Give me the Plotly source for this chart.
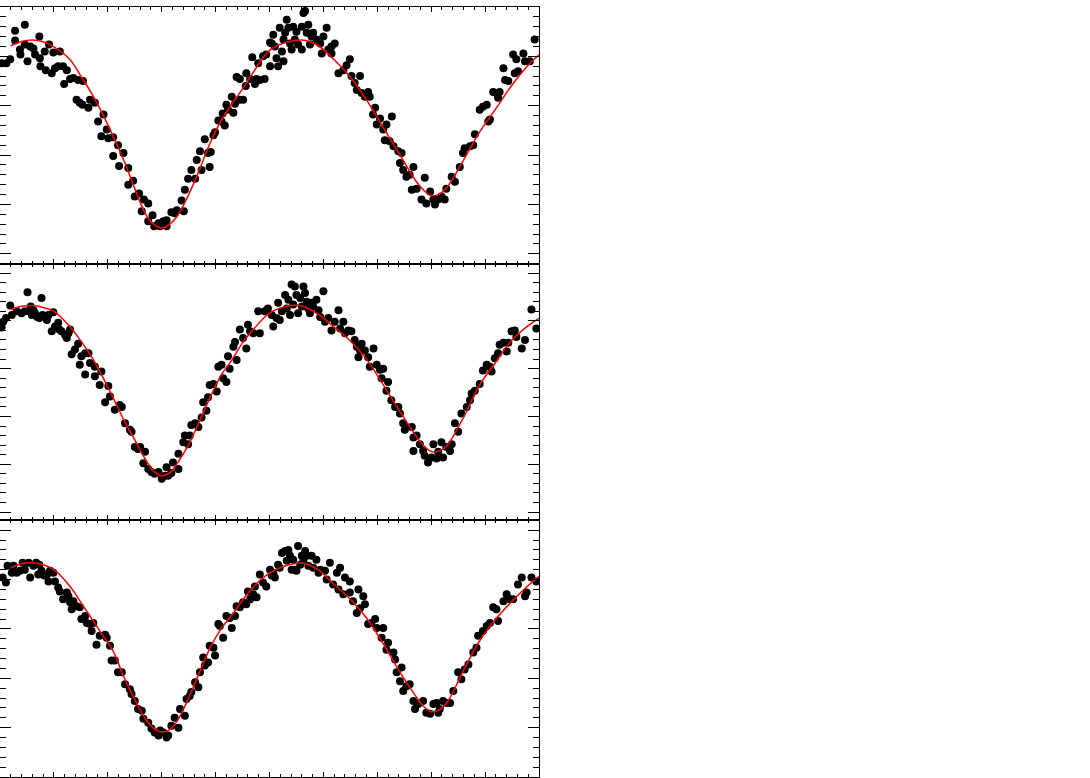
"""
Phase-folded light curves, three panels with model fits
"""

import plotly.graph_objs as go
from plotly.subplots import make_subplots

# panel 1 observations (phase, relative flux)
phase1 = [-0.297, -0.288, -0.281, -0.272, -0.272, -0.254, -0.263, -0.262, -0.254, -0.249,
          -0.244, -0.238, -0.235, -0.227, -0.226, -0.225, -0.217, -0.215, -0.209, -0.204,
          -0.201, -0.198, -0.192, -0.189, -0.183, -0.181, -0.176, -0.170, -0.164, -0.155,
          -0.146, -0.158, -0.152, -0.147, -0.136, -0.133, -0.124, -0.118, -0.108, -0.112,
          -0.102, -0.099, -0.090, -0.081, -0.090, -0.079, -0.071, -0.062, -0.062, -0.053,
          -0.050, -0.042, -0.037, -0.033, -0.025, -0.025, -0.017, -0.014, -0.006, -0.003,
          0.003, 0.009, 0.009, 0.018, 0.024, 0.028, 0.037, 0.041, 0.043, 0.049,
          0.055, 0.062, 0.065, 0.071, 0.074, 0.080, 0.086, 0.089, 0.091, 0.096,
          0.099, 0.105, 0.111, 0.113, 0.117, 0.120, 0.123, 0.130, 0.133, 0.136,
          0.139, 0.144, 0.145, 0.151, 0.156, 0.157, 0.164, 0.168, 0.173, 0.176,
          0.179, 0.182, 0.188, 0.191, 0.194, 0.201, 0.201,
          0.204, 0.207, 0.210, 0.213, 0.216, 0.219, 0.223, 0.226, 0.226, 0.229,
          0.232, 0.235, 0.238, 0.241, 0.244, 0.247, 0.250, 0.253, 0.260, 0.260,
          0.263, 0.266, 0.269, 0.272, 0.275, 0.278, 0.281, 0.287, 0.294, 0.297,
          0.300, 0.306, 0.309, 0.315, 0.315, 0.321, 0.328, 0.337, 0.343, 0.349,
          0.352, 0.358, 0.362, 0.368, 0.371, 0.377, 0.383, 0.386, 0.392, 0.396,
          0.399, 0.405, 0.411, 0.414, 0.417, 0.423, 0.427, 0.430, 0.439, 0.442,
          0.445, 0.448, 0.454, 0.460, 0.467, 0.464, 0.473, 0.482, 0.488, 0.491,
          0.498, 0.504, 0.507, 0.513, 0.519, 0.525, 0.528, 0.538, 0.544, 0.553,
          0.559, 0.562, 0.572, 0.578, 0.581, 0.590, 0.596, 0.603, 0.606, 0.609,
          0.615, 0.621, 0.624, 0.627, 0.634, 0.637, 0.643, 0.652, 0.655, 0.658,
          0.661, 0.671, 0.674, 0.683, 0.692]
flux1 = [0.993, 0.993, 0.997, 1.026, 1.016, 1.032, 1.007, 1.002, 1.012, 0.995,
         1.010, 1.008, 1.002, 1.020, 0.998, 0.990, 1.005, 0.986, 1.012, 0.983,
         1.004, 0.988, 0.990, 1.005, 0.990, 0.972, 0.986, 0.977, 0.978, 0.976,
         0.975, 0.956, 0.953, 0.951, 0.948, 0.956, 0.953, 0.934, 0.941, 0.919,
         0.926, 0.917, 0.918, 0.910, 0.899, 0.889, 0.902, 0.887, 0.870, 0.874,
         0.858, 0.861, 0.843, 0.855, 0.851, 0.833, 0.839, 0.828, 0.831, 0.828,
         0.833, 0.834, 0.828, 0.842, 0.841, 0.844, 0.854, 0.843, 0.865, 0.876,
         0.885, 0.876, 0.895, 0.904, 0.885, 0.916, 0.902, 0.888, 0.903, 0.920,
         0.923, 0.935, 0.934, 0.942, 0.930, 0.951, 0.946, 0.959, 0.943, 0.952,
         0.979, 0.956, 0.977, 0.956, 0.970, 0.983, 0.977, 0.999, 0.972, 0.977,
         0.993, 0.976, 1.000, 0.977, 1.002, 1.014, 0.990,
         1.013, 1.022, 1.010, 0.998, 0.990, 1.029, 1.005, 1.017, 0.995, 1.024,
         1.037, 1.029, 1.013, 1.007, 1.030, 1.017, 1.025, 1.012, 1.030, 1.007,
         1.044, 1.046, 1.024, 1.032, 1.012, 1.020, 1.024, 1.017, 1.013, 1.003,
         1.020, 1.029, 1.007, 1.010, 1.003, 1.013, 0.983, 0.986, 0.991, 0.997,
         0.980, 0.973, 0.966, 0.980, 0.963, 0.959, 0.964, 0.959, 0.941, 0.948,
         0.931, 0.937, 0.926, 0.915, 0.931, 0.914, 0.939, 0.909, 0.904, 0.892,
         0.902, 0.885, 0.878, 0.880, 0.888, 0.865, 0.866, 0.855, 0.877, 0.851,
         0.863, 0.855, 0.850, 0.855, 0.858, 0.855, 0.866, 0.878, 0.873, 0.888,
         0.902, 0.907, 0.909, 0.910, 0.921, 0.946, 0.949, 0.951, 0.934, 0.936,
         0.964, 0.963, 0.958, 0.964, 0.988, 0.976, 0.975, 1.002, 0.983, 0.997,
         0.985, 1.003, 0.995, 0.995, 1.017]

# panel 2 observations
phase2 = [-0.297, -0.294, -0.289, -0.281, -0.278, -0.269, -0.260, -0.254, -0.249, -0.246,
          -0.243, -0.241, -0.238, -0.235, -0.231, -0.227, -0.223, -0.221, -0.213, -0.210,
          -0.204, -0.201, -0.198, -0.192, -0.190, -0.186, -0.179, -0.176, -0.173, -0.170,
          -0.167, -0.161, -0.155, -0.152, -0.149, -0.142, -0.142, -0.136, -0.133, -0.124,
          -0.124, -0.115, -0.112, -0.105, -0.099, -0.096, -0.087, -0.078, -0.074, -0.068,
          -0.059, -0.056, -0.050, -0.044, -0.040, -0.031, -0.034, -0.025, -0.019, -0.013,
          -0.006, 0.000, 0.006, 0.009, 0.012, 0.018, 0.021, 0.031, 0.031, 0.040,
          0.043, 0.049, 0.052, 0.055, 0.062, 0.068, 0.074, 0.077, 0.083, 0.086,
          0.089, 0.096, 0.102, 0.105, 0.111, 0.114, 0.120, 0.123, 0.126, 0.133,
          0.136, 0.139, 0.145, 0.151, 0.157, 0.160, 0.164, 0.170, 0.179, 0.182,
          0.191, 0.197,
          0.204, 0.207, 0.213, 0.216, 0.219, 0.223, 0.229, 0.232, 0.235, 0.238,
          0.241, 0.244, 0.247, 0.250, 0.253, 0.257, 0.260, 0.263, 0.266, 0.269,
          0.272, 0.275, 0.278, 0.281, 0.287, 0.291, 0.294, 0.300, 0.303, 0.309,
          0.315, 0.321, 0.328, 0.331, 0.337, 0.340, 0.346, 0.352, 0.358, 0.362,
          0.365, 0.368, 0.371, 0.377, 0.383, 0.386, 0.393, 0.399, 0.405, 0.411,
          0.408, 0.420, 0.417, 0.426, 0.433, 0.439, 0.442, 0.448, 0.451, 0.454,
          0.464, 0.467, 0.473, 0.467, 0.479, 0.485, 0.488, 0.494, 0.501, 0.504,
          0.510, 0.513, 0.519, 0.522, 0.528, 0.538, 0.535, 0.544, 0.550, 0.556,
          0.566, 0.572, 0.575, 0.581, 0.590, 0.596, 0.603, 0.609, 0.612, 0.618,
          0.624, 0.627, 0.634, 0.640, 0.643, 0.649, 0.655, 0.658, 0.668, 0.674,
          0.686, 0.695]
flux2 = [0.993, 0.999, 1.003, 1.016, 1.006, 1.010, 1.008, 1.010, 1.030, 1.010,
         1.015, 1.006, 1.011, 1.008, 1.004, 1.003, 1.024, 1.006, 1.001, 1.006,
         0.989, 1.009, 0.994, 0.998, 0.991, 0.989, 0.985, 0.982, 0.987, 0.991,
         0.965, 0.970, 0.976, 0.954, 0.963, 0.966, 0.944, 0.966, 0.956, 0.952,
         0.942, 0.933, 0.947, 0.915, 0.932, 0.921, 0.907, 0.912, 0.910, 0.893,
         0.886, 0.884, 0.868, 0.866, 0.868, 0.863, 0.851, 0.845, 0.842, 0.840,
         0.842, 0.835, 0.838, 0.847, 0.838, 0.841, 0.852, 0.861, 0.845, 0.873,
         0.880, 0.871, 0.880, 0.891, 0.893, 0.889, 0.899, 0.915, 0.906, 0.920,
         0.933, 0.934, 0.926, 0.952, 0.954, 0.940, 0.936, 0.963, 0.950, 0.973,
         0.978, 0.959, 0.991, 0.982, 0.971, 0.996, 0.989, 0.987, 1.010, 0.987,
         1.010, 1.013,
         1.006, 0.994, 1.003, 1.019, 1.001, 1.010, 1.027, 1.013, 1.022, 1.006,
         1.038, 1.017, 1.036, 1.027, 1.008, 1.024, 1.015, 1.036, 1.029, 1.020,
         1.013, 1.008, 1.019, 1.015, 1.022, 1.011, 1.004, 1.031, 0.999, 1.003,
         0.990, 0.999, 1.011, 0.992, 0.999, 0.987, 0.990, 0.989, 0.980, 0.973,
         0.962, 0.969, 0.976, 0.969, 0.962, 0.952, 0.971, 0.954, 0.949, 0.950,
         0.940, 0.936, 0.927, 0.917, 0.910, 0.910, 0.903, 0.893, 0.886, 0.889,
         0.889, 0.878, 0.880, 0.864, 0.871, 0.864, 0.859, 0.852, 0.857, 0.871,
         0.856, 0.863, 0.873, 0.857, 0.868, 0.871, 0.864, 0.893, 0.884, 0.903,
         0.910, 0.917, 0.924, 0.927, 0.934, 0.948, 0.954, 0.952, 0.947, 0.961,
         0.966, 0.975, 0.977, 0.968, 0.977, 0.989, 0.990, 0.983, 0.971, 0.980,
         1.012, 0.992]

# panel 3 observations
phase3 = [-0.295, -0.289, -0.286, -0.278, -0.275, -0.269, -0.263, -0.258, -0.254, -0.247,
          -0.244, -0.238, -0.233, -0.229, -0.227, -0.223, -0.218, -0.213, -0.210, -0.207,
          -0.201, -0.198, -0.192, -0.189, -0.183, -0.176, -0.173, -0.170, -0.167, -0.164,
          -0.158, -0.152, -0.149, -0.142, -0.139, -0.133, -0.130, -0.127, -0.121, -0.115,
          -0.105, -0.102, -0.096, -0.093, -0.087, -0.081, -0.074, -0.068, -0.059, -0.056,
          -0.050, -0.044, -0.037, -0.034, -0.025, -0.019, -0.013, -0.006, -0.003, 0.003,
          0.009, 0.012, 0.018, 0.024, 0.031, 0.034, 0.043, 0.046, 0.052, 0.055,
          0.062, 0.068, 0.071, 0.077, 0.080, 0.086, 0.089, 0.096, 0.099, 0.105,
          0.108, 0.114, 0.120, 0.126, 0.130, 0.136, 0.139, 0.145, 0.151, 0.157,
          0.160, 0.164, 0.170, 0.173, 0.176, 0.182, 0.188, 0.194, 0.201,
          0.204, 0.207, 0.210, 0.216, 0.219, 0.223, 0.229, 0.232, 0.235, 0.238,
          0.241, 0.244, 0.247, 0.250, 0.253, 0.257, 0.260, 0.263, 0.266, 0.269,
          0.272, 0.278, 0.281, 0.287, 0.291, 0.294, 0.303, 0.312, 0.306, 0.318,
          0.325, 0.328, 0.331, 0.337, 0.340, 0.349, 0.349, 0.355, 0.365, 0.362,
          0.368, 0.374, 0.377, 0.383, 0.389, 0.396, 0.399, 0.408, 0.411, 0.417,
          0.420, 0.430, 0.433, 0.436, 0.445, 0.442, 0.448, 0.454, 0.460, 0.467,
          0.470, 0.476, 0.485, 0.491, 0.498, 0.504, 0.510, 0.513, 0.516, 0.522,
          0.528, 0.535, 0.541, 0.550, 0.556, 0.562, 0.569, 0.578, 0.584, 0.587,
          0.596, 0.603, 0.609, 0.615, 0.621, 0.624, 0.634, 0.640, 0.646, 0.652,
          0.661, 0.668, 0.674, 0.677, 0.686, 0.695]
flux3 = [1.002, 0.997, 1.014, 1.007, 1.014, 1.007, 1.009, 1.017, 1.010, 1.017,
         1.002, 1.014, 1.017, 1.005, 1.015, 1.009, 1.004, 1.005, 0.998, 1.009,
         1.007, 0.998, 0.992, 0.988, 0.980, 0.987, 0.983, 0.977, 0.970, 0.978,
         0.973, 0.972, 0.960, 0.963, 0.956, 0.955, 0.948, 0.956, 0.934, 0.943,
         0.944, 0.941, 0.933, 0.918, 0.918, 0.906, 0.906, 0.894, 0.889, 0.884,
         0.877, 0.869, 0.867, 0.859, 0.855, 0.849, 0.845, 0.842, 0.847, 0.845,
         0.840, 0.842, 0.852, 0.860, 0.850, 0.869, 0.862, 0.879, 0.882, 0.886,
         0.896, 0.891, 0.906, 0.921, 0.913, 0.916, 0.933, 0.931, 0.923, 0.955,
         0.953, 0.941, 0.963, 0.961, 0.951, 0.963, 0.973, 0.972, 0.977, 0.975,
         0.988, 0.980, 0.985, 0.993, 0.982, 1.005, 0.997, 0.993, 1.010,
         1.004, 1.007, 1.002, 1.015, 1.012, 1.027, 1.029, 1.019, 1.030, 1.024,
         1.010, 1.020, 1.010, 1.009, 1.034, 1.015, 1.024, 1.020, 1.029, 1.024,
         1.014, 1.024, 1.012, 1.020, 1.007, 1.010, 1.009, 1.017, 1.000, 0.995,
         1.007, 0.990, 1.012, 0.985, 1.002, 0.998, 0.987, 0.978, 0.990, 0.966,
         0.971, 0.983, 0.975, 0.955, 0.956, 0.960, 0.951, 0.941, 0.951, 0.929,
         0.936, 0.926, 0.919, 0.906, 0.911, 0.897, 0.887, 0.892, 0.894, 0.877,
         0.869, 0.874, 0.877, 0.865, 0.864, 0.874, 0.875, 0.865, 0.869, 0.877,
         0.875, 0.875, 0.887, 0.906, 0.899, 0.909, 0.914, 0.926, 0.931, 0.943,
         0.948, 0.953, 0.956, 0.972, 0.970, 0.958, 0.978, 0.985, 0.980, 0.980,
         0.995, 1.002, 0.983, 0.987, 1.002, 0.998]

# model curves, one per panel, on a shared phase grid
model_phase = [-0.28, -0.26, -0.24, -0.22, -0.20, -0.17, -0.15, -0.13, -0.11, -0.09,
               -0.07, -0.05, -0.03, -0.015, 0.0, 0.015, 0.03, 0.05, 0.07, 0.09,
               0.11, 0.13, 0.15, 0.17, 0.20, 0.23, 0.26, 0.29, 0.32, 0.35,
               0.38, 0.41, 0.44, 0.47, 0.485, 0.50, 0.515, 0.53, 0.56, 0.59,
               0.62, 0.65, 0.68, 0.70]
model1 = [1.0108, 1.0150, 1.0165, 1.0148, 1.0095, 0.9966, 0.9800, 0.9625, 0.9420, 0.9190,
          0.8945, 0.8660, 0.8405, 0.8300, 0.8262, 0.8300, 0.8390, 0.8600, 0.8850, 0.9125,
          0.9345, 0.9515, 0.9670, 0.9840, 1.0060, 1.0140, 1.0165, 1.0110, 0.9965, 0.9790,
          0.9560, 0.9290, 0.9020, 0.8750, 0.8650, 0.8590, 0.8605, 0.8680, 0.8950, 0.9235,
          0.9470, 0.9710, 0.9910, 1.0016]
model2 = [1.0118, 1.0152, 1.0160, 1.0140, 1.0100, 0.9939, 0.9790, 0.9624, 0.9420, 0.9195,
          0.8960, 0.8755, 0.8550, 0.8430, 0.8381, 0.8410, 0.8520, 0.8705, 0.8950, 0.9200,
          0.9430, 0.9590, 0.9770, 0.9910, 1.0080, 1.0150, 1.0155, 1.0070, 0.9935, 0.9790,
          0.9600, 0.9340, 0.9070, 0.8810, 0.8700, 0.8634, 0.8640, 0.8700, 0.8990, 0.9330,
          0.9570, 0.9800, 0.9950, 1.0027]
model3 = [1.0120, 1.0160, 1.0170, 1.0150, 1.0100, 0.9930, 0.9769, 0.9605, 0.9440, 0.9275,
          0.9010, 0.8786, 0.8587, 0.8495, 0.8456, 0.8480, 0.8580, 0.8800, 0.9060, 0.9310,
          0.9500, 0.9640, 0.9790, 0.9925, 1.0065, 1.0140, 1.0168, 1.0100, 0.9950, 0.9800,
          0.9610, 0.9360, 0.9080, 0.8830, 0.8720, 0.8662, 0.8680, 0.8760, 0.9080, 0.9380,
          0.9600, 0.9780, 0.9940, 1.0034]

yranges = [[0.79, 1.05], [0.7914, 1.0598], [0.80, 1.06]]

fig = make_subplots(rows=3, cols=1, shared_xaxes=True, vertical_spacing=0)

panels = [(phase1, flux1, model1), (phase2, flux2, model2), (phase3, flux3, model3)]
for i, (ph, fl, mod) in enumerate(panels):
    fig.add_trace(go.Scatter(
        x=ph, y=fl,
        mode='markers',
        marker=dict(color='black', size=8, line=dict(width=0)),
        showlegend=False
    ), row=i + 1, col=1)
    fig.add_trace(go.Scatter(
        x=model_phase, y=mod,
        mode='lines',
        line=dict(color='red', width=1.5, shape='spline'),
        showlegend=False
    ), row=i + 1, col=1)

    fig.update_xaxes(
        range=[-0.3, 0.7], tick0=0, dtick=0.1,
        ticks='inside', ticklen=5, tickcolor='black', tickwidth=1,
        minor=dict(tick0=0, dtick=0.02, ticks='inside', ticklen=3, tickcolor='black'),
        showline=True, linecolor='black', linewidth=1, mirror='allticks',
        showgrid=False, zeroline=False, showticklabels=False,
        row=i + 1, col=1
    )
    fig.update_yaxes(
        range=yranges[i], tick0=0, dtick=0.05,
        ticks='inside', ticklen=11, tickcolor='black', tickwidth=1,
        minor=dict(tick0=0, dtick=0.01, ticks='inside', ticklen=6, tickcolor='black'),
        showline=True, linecolor='black', linewidth=1, mirror='allticks',
        showgrid=False, zeroline=False, showticklabels=False,
        row=i + 1, col=1
    )

fig.update_layout(
    width=1090, height=778,
    margin=dict(l=0, r=551, t=7, b=1),
    plot_bgcolor='white',
    paper_bgcolor='white',
    showlegend=False
)

# the page's default body margin would push the figure 8px in
fig.write_html("out.html", config={'displayModeBar': False},
               post_script="document.body.style.margin = '0';")
